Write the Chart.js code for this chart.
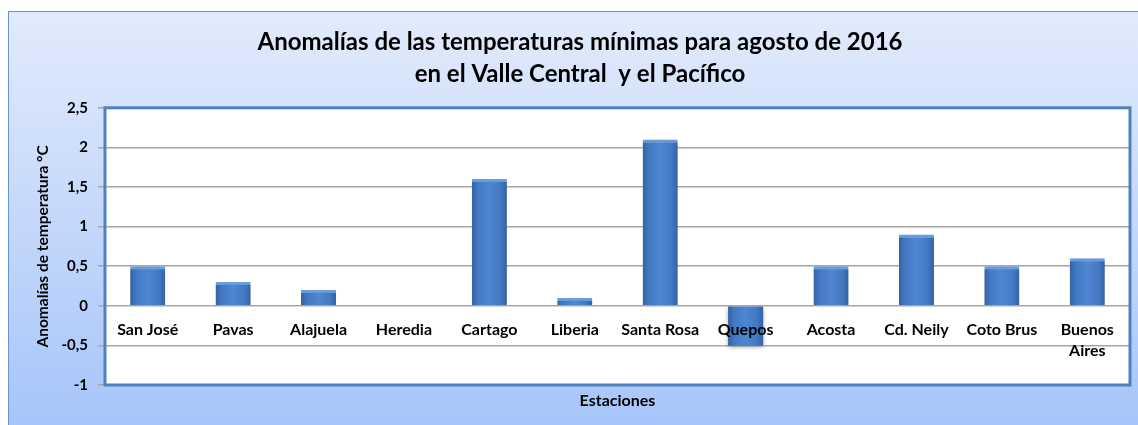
<!DOCTYPE html>
<html>
<head>
<meta charset="utf-8">
<script src="https://cdn.jsdelivr.net/npm/chart.js@4"></script>
<style>
  html, body { margin: 0; padding: 0; background: #fff; }
  #wrap { width: 1138px; height: 425px; }
</style>
</head>
<body>
<div id="wrap"><canvas id="chart" width="1138" height="425"></canvas></div>
<script>
const estaciones = ['San José', 'Pavas', 'Alajuela', 'Heredia', 'Cartago', 'Liberia', 'Santa Rosa', 'Quepos', 'Acosta', 'Cd. Neily', 'Coto Brus', ['Buenos', 'Aires']];
const anomalias = [0.5, 0.3, 0.2, 0, 1.6, 0.1, 2.1, -0.5, 0.5, 0.9, 0.5, 0.6];
const tituloLineas = ['Anomalías de las temperaturas mínimas para agosto de 2016', 'en el Valle Central  y el Pacífico'];

const FONT = 'Lato, "Open Sans", sans-serif';

// fondo degradado del gráfico y área de trazado blanca con borde azul
const fondo = {
  id: 'fondo',
  beforeDraw(chart) {
    const { ctx, chartArea: a } = chart;
    ctx.save();
    ctx.fillStyle = '#fff';
    ctx.fillRect(0, 0, chart.width, chart.height);
    const g = ctx.createLinearGradient(0, 11, 0, chart.height);
    g.addColorStop(0, '#e2ebfc');
    g.addColorStop(1, '#a7c5f9');
    ctx.fillStyle = g;
    ctx.fillRect(8, 11, chart.width, chart.height);
    ctx.strokeStyle = '#6d93cc';
    ctx.lineWidth = 1;
    ctx.strokeRect(8.5, 11.5, chart.width, chart.height);
    ctx.fillStyle = '#fff';
    ctx.fillRect(a.left, a.top, a.right - a.left, a.bottom - a.top);
    ctx.restore();
  },
  afterDraw(chart) {
    const { ctx, chartArea: a } = chart;
    ctx.save();
    ctx.strokeStyle = '#4f81bd';
    ctx.lineWidth = 3;
    ctx.strokeRect(a.left, a.top, a.right - a.left, a.bottom - a.top);
    ctx.fillStyle = '#000';
    ctx.font = 'bold 16px ' + FONT;
    ctx.textAlign = 'center';
    ctx.textBaseline = 'middle';
    ctx.fillText('Estaciones', (a.left + a.right) / 2, a.bottom + 16);
    ctx.restore();
  },
  beforeDatasetsDraw(chart) {
    const ctx = chart.ctx;
    ctx.save();
    ctx.shadowColor = 'rgba(0,0,0,0.35)';
    ctx.shadowBlur = 4;
    ctx.shadowOffsetY = 2;
  },
  afterDatasetsDraw(chart) {
    chart.ctx.restore();
  }
};

function barraDegradado(c) {
  const chart = c.chart;
  const x = chart.scales.x;
  if (!x || !chart.chartArea) return '#4f81bd';
  const cx = x.getPixelForValue(c.dataIndex);
  const w = x.width / estaciones.length * 0.41;
  const g = chart.ctx.createLinearGradient(cx - w / 2, 0, cx + w / 2, 0);
  g.addColorStop(0, '#3162a3');
  g.addColorStop(0.18, '#4479c3');
  g.addColorStop(0.5, '#4e86d2');
  g.addColorStop(0.82, '#4479c3');
  g.addColorStop(1, '#3162a3');
  return g;
}

new Chart(document.getElementById('chart'), {
  type: 'bar',
  data: {
    labels: estaciones,
    datasets: [{
      data: anomalias,
      backgroundColor: barraDegradado,
      borderColor: '#6b9fe3',
      borderWidth: { top: 3, left: 0, right: 0, bottom: 0 },
      borderSkipped: 'bottom',
      barPercentage: 0.41,
      categoryPercentage: 1
    }]
  },
  options: {
    responsive: false,
    animation: false,
    layout: { padding: { left: 30, right: 8, bottom: 40, top: 0 } },
    plugins: {
      legend: { display: false },
      tooltip: { enabled: false },
      title: {
        display: true,
        text: tituloLineas,
        color: '#000',
        font: { family: FONT, size: 24, weight: 'bold', lineHeight: 1.35 },
        padding: { top: 26, bottom: 17 }
      }
    },
    scales: {
      x: {
        position: { y: 0 },
        grid: { display: false },
        border: { display: false },
        ticks: {
          z: 1,
          color: '#000',
          font: { family: FONT, size: 16, weight: 'bold', lineHeight: 1.3 },
          maxRotation: 0,
          autoSkip: false,
          padding: 6
        }
      },
      y: {
        min: -1,
        max: 2.5,
        afterFit(s) { s.width = 75; },
        grid: { color: '#a6a6a6', lineWidth: 1.5, tickLength: 7, drawTicks: true },
        border: { display: false },
        ticks: {
          stepSize: 0.5,
          color: '#000',
          padding: 10,
          font: { family: FONT, size: 15, weight: 'bold' },
          callback: v => String(v).replace('.', ',')
        },
        title: {
          display: true,
          text: 'Anomalías de temperatura °C',
          color: '#000',
          font: { family: FONT, size: 15.5, weight: 'bold' },
          padding: { bottom: 2 }
        }
      }
    }
  },
  plugins: [fondo]
});
</script>
</body>
</html>
